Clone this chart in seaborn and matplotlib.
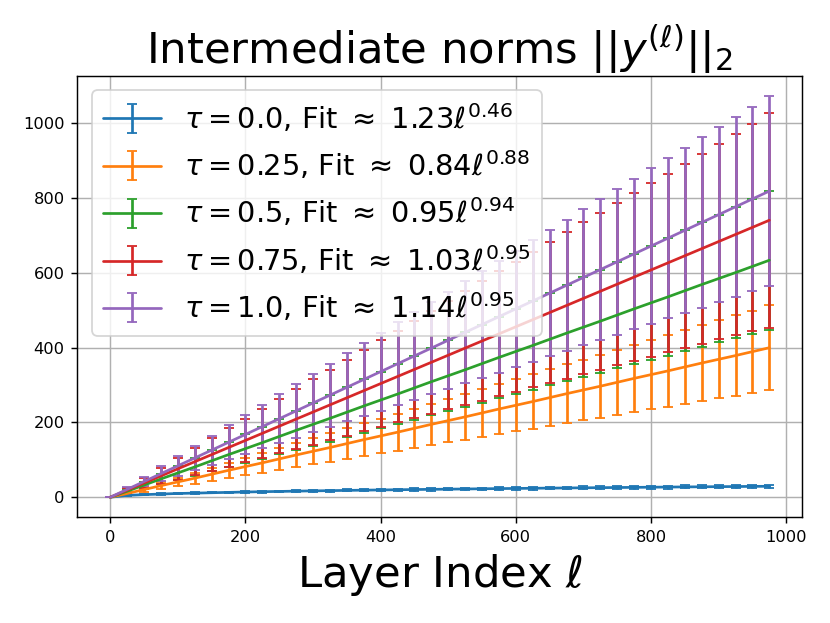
import matplotlib
matplotlib.use("Agg")
import matplotlib.pyplot as plt
import seaborn as sns

# layer indices where the norms were recorded
layers = list(range(0, 1000, 25))

# mean norm per layer, one list per tau
mean_t00 = [0, 5.0, 7.0, 8.5, 10.0, 11.0, 12.0, 13.0, 14.0, 14.8, 15.5, 16.3, 17.0, 17.6, 18.3, 18.9, 19.5, 20.0,
            20.6, 21.1, 21.6, 22.1, 22.6, 23.1, 23.5, 24.0, 24.4, 24.8, 25.2, 25.6, 26.0, 26.4, 26.8, 27.2, 27.6,
            27.9, 28.3, 28.6, 29.0, 29.3]
mean_t025 = [0, 10, 20.5, 31, 41, 51, 61.5, 72, 82, 92, 102.5, 113, 123, 133, 143.5, 154, 164, 174, 184.5, 195,
             205, 215, 225.5, 236, 246, 256, 266.5, 277, 287, 297, 307.5, 318, 328, 338, 348.5, 359, 369, 379,
             389.5, 400]
mean_t05 = [0, 16, 32.5, 49, 65, 81, 97.5, 114, 130, 146, 162.5, 179, 195, 211, 227.5, 244, 260, 276, 292.5, 309,
            325, 341, 357.5, 374, 390, 406, 422.5, 439, 455, 471, 487.5, 504, 520, 536, 552.5, 569, 585, 601,
            617.5, 634]
mean_t075 = [0, 19, 38, 57, 76, 95, 114, 133, 152, 171, 190, 209, 228, 247, 266, 285, 304, 323, 342, 361, 380,
             399, 418, 437, 456, 475, 494, 513, 532, 551, 570, 589, 608, 627, 646, 665, 684, 703, 722, 741]
mean_t10 = [0, 21, 42, 63, 84, 105, 126, 147, 168, 189, 210, 231, 252, 273, 294, 315, 336, 357, 378, 399, 420,
            441, 462, 483, 504, 525, 546, 567, 588, 609, 630, 651, 672, 693, 714, 735, 756, 777, 798, 819]

# standard deviation per layer
std_t00 = [0, 1.0, 1.3, 1.5, 1.7, 1.8, 2.0, 2.1, 2.2, 2.3, 2.4, 2.5, 2.6, 2.7, 2.8, 2.9, 3.0, 3.0, 3.1, 3.2,
           3.3, 3.3, 3.4, 3.5, 3.5, 3.6, 3.7, 3.7, 3.8, 3.8, 3.9, 4.0, 4.0, 4.1, 4.1, 4.2, 4.2, 4.3, 4.3, 4.4]
std_t025 = [0, 3, 6, 9, 11.5, 14.5, 17.5, 20.5, 23, 26, 29, 32, 35, 37.5, 40.5, 43.5, 46.5, 49.5, 52, 55, 58, 61,
            64, 66.5, 69.5, 72.5, 75.5, 78.5, 81, 84, 87, 90, 93, 95.5, 98.5, 101.5, 104.5, 107.5, 110, 113]
std_t05 = [0, 5, 9.5, 14, 19, 24, 28.5, 33, 38, 43, 47.5, 52, 57, 62, 66.5, 71, 76, 81, 85.5, 90, 95, 100, 104.5,
           109, 114, 119, 123.5, 128, 133, 138, 142.5, 147, 152, 157, 161.5, 166, 171, 176, 180.5, 186]
std_t075 = [0, 7, 14.5, 22, 29, 36, 43.5, 51, 58, 65, 72.5, 80, 87, 94, 101.5, 109, 116, 123, 130.5, 138, 145,
            152, 159.5, 167, 174, 181, 188.5, 196, 203, 210, 217.5, 225, 232, 239, 246.5, 254, 261, 268, 276, 287]
std_t10 = [0, 6.5, 13, 19.5, 26, 32.5, 39, 45.5, 52, 58.5, 65, 71.5, 78, 84.5, 91, 97.5, 104, 110.5, 117, 123.5,
           130, 136.5, 143, 149.5, 156, 162.5, 169, 175.5, 182, 188.5, 195, 201.5, 208, 214.5, 221, 227.5, 234,
           240.5, 247, 255]

labels = [r"$\tau = 0.0$, Fit $\approx$ $1.23\ell^{0.46}$",
          r"$\tau = 0.25$, Fit $\approx$ $0.84\ell^{0.88}$",
          r"$\tau = 0.5$, Fit $\approx$ $0.95\ell^{0.94}$",
          r"$\tau = 0.75$, Fit $\approx$ $1.03\ell^{0.95}$",
          r"$\tau = 1.0$, Fit $\approx$ $1.14\ell^{0.95}$"]

means = [mean_t00, mean_t025, mean_t05, mean_t075, mean_t10]
stds = [std_t00, std_t025, std_t05, std_t075, std_t10]

sns.set_style("ticks", {"axes.grid": True, "grid.color": "#b0b0b0", "axes.edgecolor": "black",
                        "xtick.color": "black", "ytick.color": "black", "text.color": "black",
                        "axes.labelcolor": "black"})
plt.rcParams["font.family"] = ["DejaVu Sans"]
colors = sns.color_palette("tab10", 5)

fig = plt.figure(figsize=(830 / 130, 623 / 130), dpi=130)
ax = fig.add_axes([77.3 / 830, 1 - 517.3 / 623, (802.3 - 77.3) / 830, (517.3 - 75.7) / 623])

for m, s, c, lab in zip(means, stds, colors, labels):
    ax.errorbar(layers, m, yerr=s, color=c, capsize=3, label=lab, lw=1.5)

ax.set_title(r"Intermediate norms $||y^{(\ell)}||_2$", fontsize=24, color="black")
ax.set_xlabel(r"Layer Index $\ell$", fontsize=24, color="black")
ax.set_xticks([0, 200, 400, 600, 800, 1000])
ax.set_yticks([0, 200, 400, 600, 800, 1000])
ax.tick_params(labelsize=9, length=3.5, width=0.8, colors="black")
for sp in ax.spines.values():
    sp.set_linewidth(0.8)
leg = ax.legend(fontsize=16, loc="upper left")
for t in leg.get_texts():
    t.set_color("black")

fig.savefig("out.png", dpi=130)
